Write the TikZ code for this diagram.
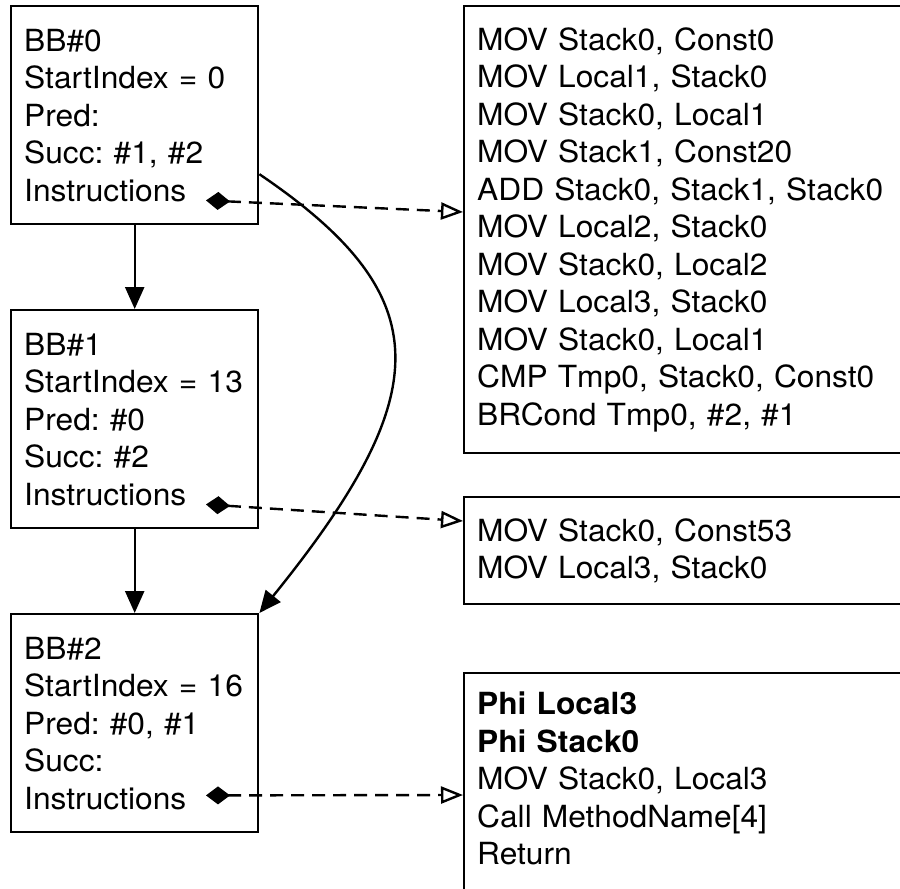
\documentclass[tikz,border=0pt]{standalone}
\usepackage{fontspec}
\setmainfont{TeX Gyre Heros}[FakeStretch=1.04]
\frenchspacing
\usetikzlibrary{arrows.meta}
\begin{document}
\begin{tikzpicture}[x=1pt, y=-1pt, node distance=304pt]
        \tikzstyle{block} = [rectangle, draw=black, line width=2.4pt, inner xsep=13pt, inner ysep=0pt, align=left, font=\fontsize{30.5}{37.5}\selectfont]
        \tikzstyle{bbblock} = [block, minimum width=247pt, minimum height=218pt, text width=221pt]
        \tikzstyle{insblock} = [block, minimum width=470pt, text width=444pt]
        \tikzstyle{arrow} = [line width=2.4pt, -{Triangle[length=22pt,width=19pt]}]
        \tikzstyle{insarrow} = [line width=2.4pt, dash pattern=on 13pt off 8pt, {Diamond[length=24pt,width=18pt]}-{Triangle[open,length=22pt,width=17pt]}]

        \path[use as bounding box, fill=white] (0,0) rectangle (900,889);
        \clip (0,0) rectangle (900,889);

        \node (bb0) [bbblock, anchor=north west] at (10,5) {BB\#0\\StartIndex = 0\\Pred:\\Succ: \#1, \#2\\Instructions};
        \node (bb1) [bbblock, below of=bb0] {BB\#1\\StartIndex = 13\\Pred: \#0\\Succ: \#2\\Instructions};
        \node (bb2) [bbblock, below of=bb1] {BB\#2\\StartIndex = 16\\Pred: \#0, \#1\\Succ:\\Instructions};

        \node (ins0) [insblock, anchor=north west, minimum height=447pt] at (463,5) {MOV Stack0, Const0\\MOV Local1, Stack0\\MOV Stack0, Local1\\MOV Stack1, Const20\\ADD Stack0, Stack1, Stack0\\MOV Local2, Stack0\\MOV Stack0, Local2\\MOV Local3, Stack0\\MOV Stack0, Local1\\CMP Tmp0, Stack0, Const0\\BRCond Tmp0, \#2, \#1};
        \node (ins1) [insblock, anchor=north west, minimum height=107pt] at (463,496) {MOV Stack0, Const53\\MOV Local3, Stack0};
        \node (ins2) [insblock, anchor=north west, minimum height=248pt] at (463,672) {\textbf{Phi Local3}\\\textbf{Phi Stack0}\\MOV Stack0, Local3\\Call MethodName[4]\\Return\\\mbox{}};

        % diamond ends next to "Instructions"
        \coordinate (d0) at ([shift={(196pt,25pt)}]bb0.south west);
        \coordinate (d1) at ([shift={(196pt,25pt)}]bb1.south west);
        \coordinate (d2) at ([shift={(196pt,38pt)}]bb2.south west);

        \draw [arrow] (bb0) -- (bb1);
        \draw [arrow] (bb1) -- (bb2);
        \draw [arrow] ([yshift=-59pt]bb0.east) .. controls +(180,122) and +(178,-220) .. (bb2.north east);

        \draw [insarrow] (d0) -- ([yshift=-207pt]ins0.north west);
        \draw [insarrow] (d1) -- ([yshift=-25pt]ins1.north west);
        \draw [insarrow] (d2) -- ([yshift=-123pt]ins2.north west);
    \end{tikzpicture}
\end{document}
